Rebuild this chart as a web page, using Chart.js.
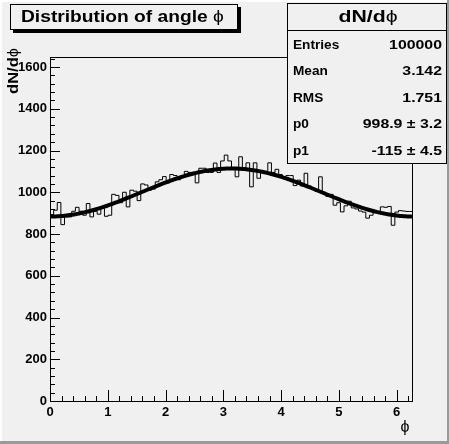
<!DOCTYPE html>
<html>
<head>
<meta charset="utf-8">
<script src="https://cdn.jsdelivr.net/npm/chart.js@4/dist/chart.umd.min.js"></script>
<style>
html, body { margin: 0; padding: 0; background: #f0f0f0; }
#hist_chart { display: block; }
</style>
</head>
<body>
<canvas id="hist_chart" width="449" height="444"></canvas>
<script>
// histogram contents, 100 bins from 0 to 2*pi
var binCounts = [
    906, 893, 914, 951, 845, 882, 882, 909, 928, 909,
    890, 946, 882, 909, 895, 923, 885, 890, 990, 985,
    950, 1000, 930, 1010, 1005, 960, 1040, 1035, 1010, 1015,
    1050, 1060, 1075, 1045, 1085, 1080, 1060, 1070, 1100, 1095,
    1085, 1045, 1115, 1115, 1095, 1095, 1140, 1095, 1150, 1178,
    1150, 1115, 1074, 1170, 1105, 1141, 1026, 1141, 1067, 1100,
    1100, 1141, 1095, 1110, 1085, 1074, 1080, 1080, 1032, 1058,
    1030, 1091, 1030, 1015, 1005, 1074, 1000, 980, 990, 938,
    950, 906, 935, 957, 925, 920, 910, 905, 876, 890,
    910, 905, 930, 928, 932, 842, 905, 912, 910, 908
];
var phiMin = 0;
var phiMax = 2 * Math.PI;
var yMax = 1648;
var fitParams = [998.9, -115];          // p0 + p1*cos(x)
var xTicks = [0, 1, 2, 3, 4, 5, 6];
var yTicks = [0, 200, 400, 600, 800, 1000, 1200, 1400, 1600];
var statsLabels = ["Entries", "Mean", "RMS", "p0", "p1"];
var statsValues = ["100000", "3.142", "1.751", "998.9 \u00b1 3.2", "-115 \u00b1 4.5"];
var titleText = "Distribution of angle \u03d5";
var statsTitle = "dN/d\u03d5";
var yTitle = "dN/d\u03d5";
var xTitle = "\u03d5";

var FONT = "'Liberation Sans', Arial, Helvetica, sans-serif";
var PHI = '\u03d5';
var BG = '#f0f0f0';

var binWidth = (phiMax - phiMin) / binCounts.length;
var histPoints = binCounts.map(function (v, i) {
    return { x: phiMin + i * binWidth, y: v };
});
histPoints.push({ x: phiMax, y: binCounts[binCounts.length - 1] });

var fitPoints = [];
for (var k = 0; k <= 200; k++) {
    var x = phiMin + (phiMax - phiMin) * k / 200;
    fitPoints.push({ x: x, y: fitParams[0] + fitParams[1] * Math.cos(x) });
}

function drawTicks(ctx, scale, from, to, step, len, horizontal, area) {
    var n = Math.round((to - from) / step);
    for (var i = 0; i <= n; i++) {
        var v = from + i * step;
        if (v > scale.max + 1e-9) break;
        var p = scale.getPixelForValue(v);
        ctx.beginPath();
        if (horizontal) {
            ctx.moveTo(Math.round(p) + 0.5, area.bottom);
            ctx.lineTo(Math.round(p) + 0.5, area.bottom - len);
        } else {
            ctx.moveTo(area.left, Math.round(p) + 0.5);
            ctx.lineTo(area.left + len, Math.round(p) + 0.5);
        }
        ctx.stroke();
    }
}

// ROOT text comes out wider than Liberation Sans, so stretch it sideways.
// the phi is a thin symbol-font glyph, draw it in normal weight
function wideText(ctx, text, x, y, align, sx, size) {
    var bold = 'bold ' + size + 'px ' + FONT;
    var thin = 'normal ' + size + 'px ' + FONT;
    var head = text, tail = '';
    if (text.charAt(text.length - 1) === PHI) {
        head = text.slice(0, -1);
        tail = PHI;
    }
    ctx.font = bold;
    var wh = ctx.measureText(head).width;
    ctx.font = thin;
    var wt = tail ? ctx.measureText(tail).width : 0;
    var w = (wh + wt) * sx;
    var left = align === 'left' ? x : (align === 'right' ? x - w : x - w / 2);
    ctx.save();
    ctx.textAlign = 'left';
    ctx.translate(left, y);
    ctx.scale(sx, 1);
    ctx.font = bold;
    ctx.fillText(head, 0, 0);
    if (tail) {
        ctx.font = thin;
        ctx.fillText(tail, wh, 0);
    }
    ctx.restore();
}

var rootStyle = {
    id: 'rootStyle',
    beforeDraw: function (chart) {
        var ctx = chart.ctx, w = chart.width, h = chart.height;
        ctx.save();
        ctx.fillStyle = BG;
        ctx.fillRect(0, 0, w, h);
        // canvas bevel
        ctx.fillStyle = '#ffffff';
        ctx.fillRect(0, 0, w, 2);
        ctx.fillRect(0, 0, 2, h);
        ctx.fillStyle = '#9a9a9a';
        ctx.fillRect(0, h - 3, w, 3);
        ctx.fillRect(w - 2, 0, 2, h);
        ctx.restore();
    },
    afterDraw: function (chart) {
        var ctx = chart.ctx, a = chart.chartArea;
        var xs = chart.scales.x, ys = chart.scales.y;
        ctx.save();
        ctx.strokeStyle = '#000';
        ctx.lineWidth = 1;
        ctx.strokeRect(a.left + 0.5, a.top + 0.5, a.right - a.left - 1, a.bottom - a.top);
        drawTicks(ctx, xs, 0, 6.2, 1, 11, true, a);
        drawTicks(ctx, xs, 0, 6.2, 0.2, 5, true, a);
        drawTicks(ctx, ys, 0, 1600, 200, 10, false, a);
        drawTicks(ctx, ys, 0, 1640, 40, 5, false, a);

        // title box with shadow
        ctx.fillStyle = '#000';
        ctx.fillRect(13, 7, 228, 26);
        ctx.fillStyle = BG;
        ctx.fillRect(10, 4, 228, 26);
        ctx.strokeRect(10.5, 4.5, 227, 25);
        ctx.fillStyle = '#000';
        ctx.textBaseline = 'middle';
        wideText(ctx, titleText, 21, 18, 'left', 1.2, 16);

        // stats box
        var bx = 287, by = 3, bw = 160, bh = 161;
        ctx.fillStyle = BG;
        ctx.fillRect(bx, by, bw, bh);
        ctx.strokeRect(bx + 0.5, by + 0.5, bw - 1, bh - 1);
        ctx.beginPath();
        ctx.moveTo(bx, 30.5);
        ctx.lineTo(bx + bw, 30.5);
        ctx.stroke();
        ctx.fillStyle = '#000';
        wideText(ctx, statsTitle, 368, 17, 'center', 1.25, 17);
        for (var i = 0; i < statsLabels.length; i++) {
            var ty = 45 + i * 26.5;
            wideText(ctx, statsLabels[i], 293, ty, 'left', 1.05, 13);
            wideText(ctx, statsValues[i], 442, ty, 'right', 1.22, 13);
        }

        // axis titles
        wideText(ctx, xTitle, 405, 428, 'center', 1, 16);
        ctx.translate(14, 48);
        ctx.rotate(-Math.PI / 2);
        wideText(ctx, yTitle, 0, 0, 'right', 1.1, 15);
        ctx.restore();
    }
};

new Chart(document.getElementById("hist_chart").getContext("2d"), {
    type: 'line',
    data: {
        datasets: [{
            label: 'fit',
            data: fitPoints,
            borderColor: '#000',
            borderWidth: 4,
            pointRadius: 0,
            tension: 0,
            fill: false
        }, {
            label: 'hist',
            data: histPoints,
            borderColor: '#000',
            borderWidth: 1,
            pointRadius: 0,
            stepped: 'after',
            fill: false
        }]
    },
    options: {
        responsive: false,
        animation: false,
        events: [],
        layout: { padding: { left: 0, top: 57, right: 36, bottom: 0 } },
        plugins: { legend: { display: false }, tooltip: { enabled: false } },
        scales: {
            x: {
                type: 'linear',
                min: phiMin,
                max: phiMax,
                grid: { display: false, drawTicks: false },
                border: { display: false },
                afterFit: function (s) { s.height = 43; },
                afterBuildTicks: function (s) { s.ticks = xTicks.map(function (v) { return { value: v }; }); },
                ticks: {
                    color: '#000', padding: 4, maxRotation: 0,
                    font: { family: FONT, weight: 'bold', size: 13 },
                    callback: function (v) { return String(v); }
                }
            },
            y: {
                type: 'linear',
                min: 0,
                max: yMax,
                grid: { display: false, drawTicks: false },
                border: { display: false },
                afterFit: function (s) { s.width = 50; },
                afterBuildTicks: function (s) { s.ticks = yTicks.map(function (v) { return { value: v }; }); },
                ticks: {
                    color: '#000', padding: 3,
                    font: { family: FONT, weight: 'bold', size: 13 },
                    callback: function (v) { return String(v); }
                }
            }
        }
    },
    plugins: [rootStyle]
});
</script>
</body>
</html>
